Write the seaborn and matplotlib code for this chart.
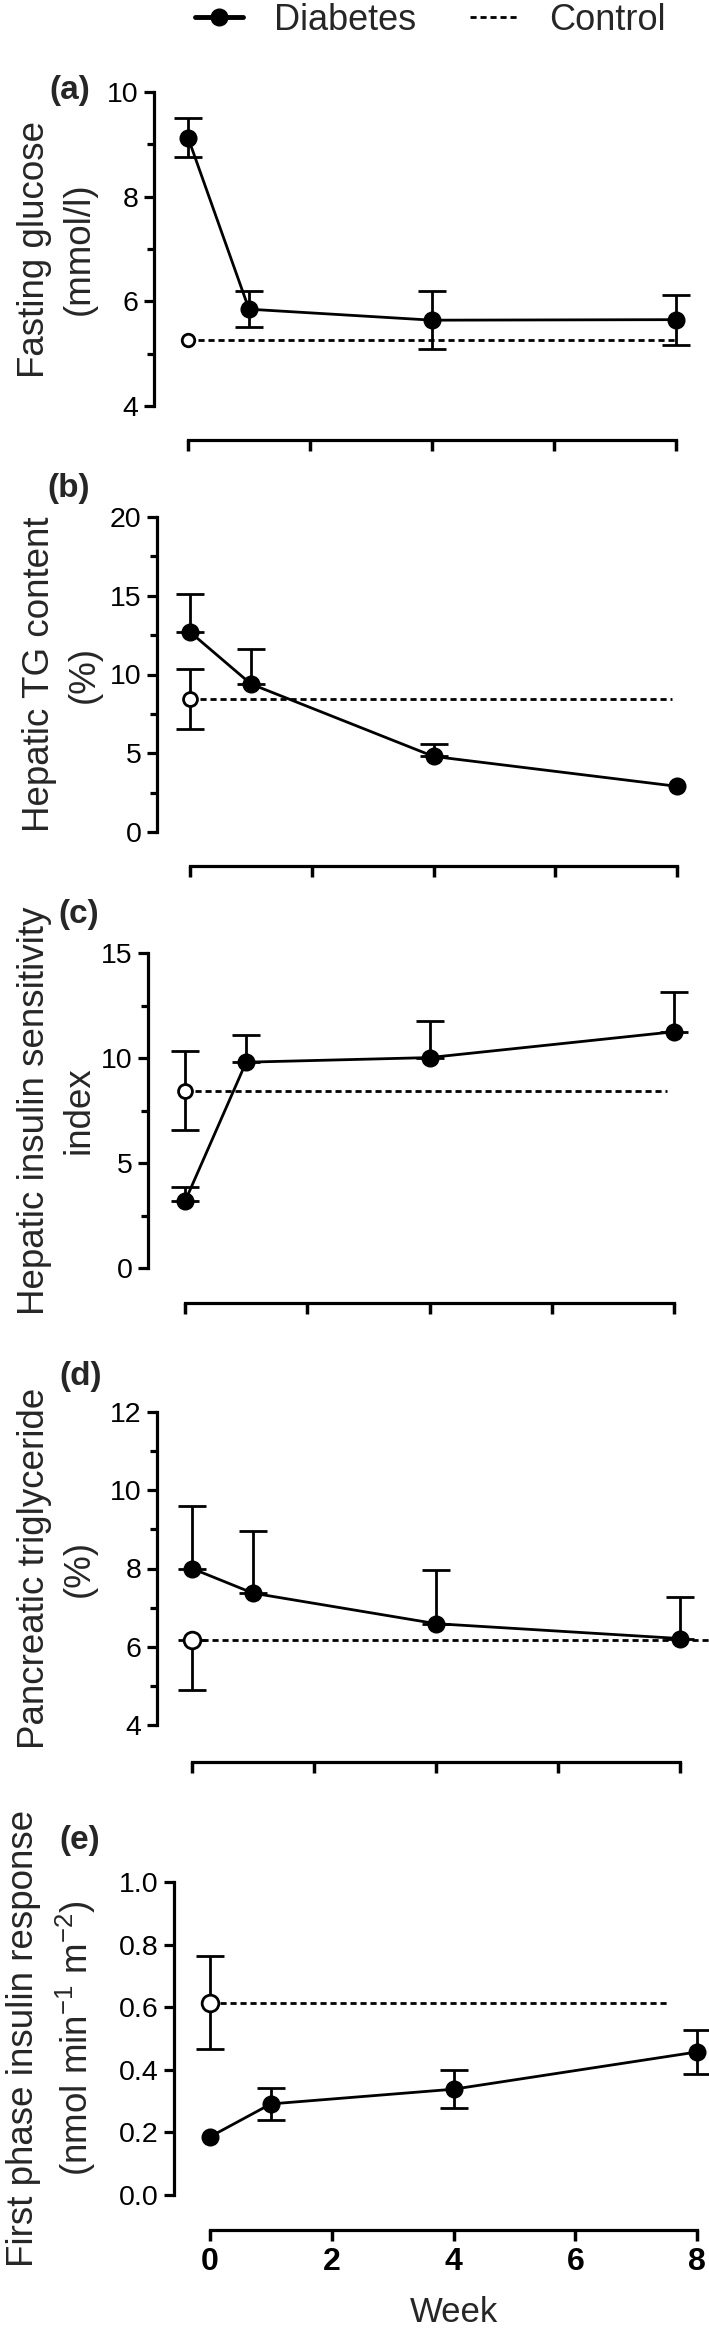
import matplotlib
matplotlib.use('Agg')
import matplotlib.pyplot as plt
import seaborn as sns
from matplotlib.lines import Line2D

# DATA
weeks = [0, 1, 4, 8]

glucose_diab = [9.13, 5.85, 5.64, 5.65]
glucose_diab_sem = [0.38, 0.35, 0.56, 0.48]
glucose_ctrl = 5.27
glucose_ctrl_sem = 0.0

hep_tg_diab = [12.7, 9.4, 4.8, 2.9]
hep_tg_diab_sem = [2.43, 2.25, 0.8, 0.0]
hep_tg_ctrl = 8.45
hep_tg_ctrl_sem = 1.9

hisi_diab = [3.17, 9.8, 10.02, 11.25]
hisi_diab_sem = [0.7, 1.3, 1.72, 1.87]
hisi_ctrl = 8.45
hisi_ctrl_sem = 1.87

panc_tg_diab = [8.0, 7.37, 6.59, 6.21]
panc_tg_diab_sem = [1.6, 1.6, 1.38, 1.07]
panc_tg_ctrl = 6.18
panc_tg_ctrl_sem = 1.28

fpir_diab = [0.186, 0.291, 0.338, 0.457]
fpir_diab_sem = [0.0, 0.05, 0.06, 0.07]
fpir_ctrl = 0.615
fpir_ctrl_sem = 0.15

ctrl_line_end = [8.0, 7.92, 7.89, 8.47, 7.5]

panel_letters = ['(a)', '(b)', '(c)', '(d)', '(e)']
ylabels = ['Fasting glucose\n(mmol/l)',
           'Hepatic TG content\n(%)',
           'Hepatic insulin sensitivity\nindex',
           'Pancreatic triglyceride\n(%)',
           'First phase insulin response\n(nmol min$^{-1}$ m$^{-2}$)']
week_ticks = [0, 2, 4, 6, 8]

# SETUP
sns.set_style('ticks')
plt.rcParams['font.family'] = ['Liberation Sans', 'DejaVu Sans']
plt.rcParams['mathtext.fontset'] = 'custom'
plt.rcParams['mathtext.rm'] = 'Liberation Sans'
plt.rcParams['mathtext.default'] = 'regular'

W, H = 709, 2328
fig = plt.figure(figsize=(W / 100, H / 100), dpi=100)
fig.patch.set_facecolor('white')

panels = [
    # diab, sem, ctrl, ctrl sem, diab err dir, ctrl err dir, yrange, major, minor, ctrl ms
    (glucose_diab, glucose_diab_sem, glucose_ctrl, glucose_ctrl_sem, 'both', 'both', (4, 10), 2, 1, 9),
    (hep_tg_diab, hep_tg_diab_sem, hep_tg_ctrl, hep_tg_ctrl_sem, 'up', 'both', (0, 20), 5, 2.5, 10),
    (hisi_diab, hisi_diab_sem, hisi_ctrl, hisi_ctrl_sem, 'up', 'both', (0, 15), 5, 2.5, 10),
    (panc_tg_diab, panc_tg_diab_sem, panc_tg_ctrl, panc_tg_ctrl_sem, 'up', 'down', (4, 12), 2, 1, 12),
    (fpir_diab, fpir_diab_sem, fpir_ctrl, fpir_ctrl_sem, 'both', 'both', (0, 1.0), 0.2, None, 12),
]

# pixel layout: spine x, week0 x, week8 x, ymax px, ymin px, x-axis px
layout = [
    (154, 188, 676, 92, 406, 440),
    (157, 190, 677, 517, 832, 866),
    (148, 185, 674, 953, 1268, 1303),
    (157, 192, 680, 1412, 1725, 1762),
    (174, 210, 697, 1882, 2195, 2230),
]
letter_pos = [(70, 91), (69, 488), (79, 915), (81, 1377), (80, 1840)]
ylabel_x = [57, 62, 57, 57, 52]


def errs(sem, direction):
    lo = [s if direction in ('both', 'down') else 0 for s in sem]
    hi = [s if direction in ('both', 'up') else 0 for s in sem]
    return [lo, hi]


for i, (p, lay) in enumerate(zip(panels, layout)):
    diab, dsem, ctrl, csem, ddir, cdir, (ymin, ymax), major, minor, cms = p
    sx, x0, x8, ytop, ybot, xax = lay
    right_px = x8 + 14
    top_px = ytop - 14
    ax = fig.add_axes([sx / W, 1 - xax / H, (right_px - sx) / W, (xax - top_px) / H])
    ax.set_facecolor('none')

    def px2x(px):
        return (px - x0) / (x8 - x0) * 8

    def px2y(px):
        return ymin + (ybot - px) / (ybot - ytop) * (ymax - ymin)

    # control reference line
    sns.lineplot(x=[0, ctrl_line_end[i]], y=[ctrl, ctrl], ax=ax, color='black',
                 lw=2, linestyle=(0, (2.2, 1.4)), zorder=2, clip_on=False)
    # diabetes line
    sns.lineplot(x=weeks, y=diab, ax=ax, color='black', lw=2, zorder=3)
    ex = [w for w, s in zip(weeks, dsem) if s > 0]
    ey = [v for v, s in zip(diab, dsem) if s > 0]
    es = [s for s in dsem if s > 0]
    ax.errorbar(ex, ey, yerr=errs(es, ddir), fmt='none', ecolor='black',
                elinewidth=2, capsize=10, capthick=2, zorder=3)
    if csem > 0:
        ax.errorbar([0], [ctrl], yerr=errs([csem], cdir), fmt='none', ecolor='black',
                    elinewidth=2, capsize=10, capthick=2, zorder=3)
    ax.plot(weeks, diab, 'o', ms=12, mfc='black', mec='black', zorder=5, clip_on=False)
    ax.plot([0], [ctrl], 'o', ms=cms, mfc='white', mec='black', mew=2, zorder=6, clip_on=False)

    ax.set_xlim(px2x(sx), px2x(right_px))
    ax.set_ylim(px2y(xax), px2y(top_px))

    # spines GraphPad style
    sns.despine(ax=ax)
    ax.spines['left'].set_bounds(ymin, ymax)
    ax.spines['bottom'].set_bounds(0, 8)
    for s in ('left', 'bottom'):
        ax.spines[s].set_linewidth(2.3)
        ax.spines[s].set_color('black')

    n_major = int(round((ymax - ymin) / major))
    ax.set_yticks([ymin + k * major for k in range(n_major + 1)])
    if minor:
        n_minor = int(round((ymax - ymin) / minor))
        ax.set_yticks([ymin + k * minor for k in range(n_minor + 1)], minor=True)
    if i == 4:
        ax.set_yticklabels(['%.1f' % (ymin + k * major) for k in range(n_major + 1)])
    ax.tick_params(axis='y', which='major', direction='out', length=7, width=2.3,
                   labelsize=20.5, pad=4, colors='black')
    ax.tick_params(axis='y', which='minor', direction='out', length=5, width=2.3,
                   colors='black')
    ax.set_xticks(week_ticks)
    ax.tick_params(axis='x', which='major', direction='out', length=8, width=2.5,
                   pad=4, color='black', labelcolor='black')
    if i < 4:
        ax.tick_params(axis='x', labelbottom=False)
    else:
        ax.set_xticklabels([str(w) for w in week_ticks], fontsize=23, fontweight='bold')

    fig.text(letter_pos[i][0] / W, 1 - letter_pos[i][1] / H, panel_letters[i],
             fontsize=24, fontweight='bold', ha='center', va='center')
    fig.text(ylabel_x[i] / W, 1 - (ytop + ybot) / 2 / H, ylabels[i], rotation=90,
             fontsize=26.5, ha='center', va='center', multialignment='center',
             linespacing=1.35)

fig.text(454 / W, 1 - 2312 / H, 'Week', fontsize=25, ha='center', va='center')

handles = [Line2D([], [], color='black', lw=3.5, marker='o', ms=12),
           Line2D([], [], color='black', lw=2, linestyle=(0, (2.2, 1.4)))]
fig.legend(handles, ['Diabetes', 'Control'], loc='center',
           bbox_to_anchor=(430 / W, 1 - 20 / H), ncol=2, frameon=False,
           fontsize=26, handlelength=1.33, handletextpad=0.86, columnspacing=1.5)

fig.savefig('out.png', dpi=100, facecolor='white')
